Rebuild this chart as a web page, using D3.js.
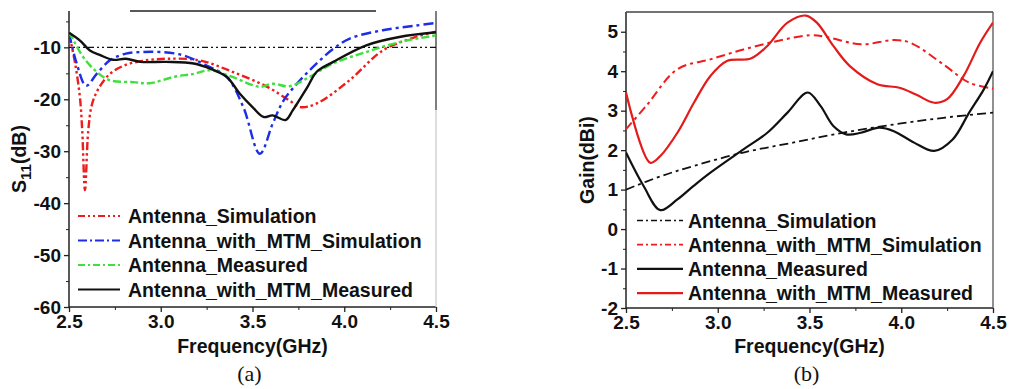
<!DOCTYPE html>
<html><head><meta charset="utf-8">
<script src="https://cdn.jsdelivr.net/npm/d3@7"></script>
<style>
html,body{margin:0;padding:0;background:#fff;}
svg text{font-family:"Liberation Sans",Arial,sans-serif;font-weight:bold;fill:#111;}
</style></head>
<body>
<svg id="c" width="1019" height="389"></svg>
<script>
// ---------- DATA: panel (a) S11 ----------
const s11XTicks = [2.5, 3.0, 3.5, 4.0, 4.5];
const s11YTicks = [-60, -50, -40, -30, -20, -10];
const antSimF = [2.5, 2.533, 2.56, 2.572, 2.587, 2.605, 2.625, 2.66, 2.72, 2.8, 2.9, 3.03, 3.21, 3.39, 3.58, 3.70, 3.76, 3.85, 4.03, 4.21, 4.39, 4.5];
const antSimV = [-7.3, -13, -19.8, -26, -37.5, -26, -21, -18, -15.2, -13.5, -12.6, -12.2, -12.5, -14.7, -17.6, -20.2, -21.5, -20.8, -16.3, -10.6, -8.0, -7.0];
const mtmSimF = [2.5, 2.542, 2.593, 2.651, 2.723, 2.81, 2.9, 3.0, 3.12, 3.25, 3.36, 3.45, 3.54, 3.61, 3.67, 3.76, 3.85, 3.94, 4.03, 4.21, 4.39, 4.5];
const mtmSimV = [-7.3, -13.1, -17.4, -15.1, -12.5, -11.2, -10.9, -10.9, -11.5, -13.5, -15.7, -21.5, -30.5, -24.7, -20.2, -16.3, -13.1, -10.3, -8.3, -6.7, -5.8, -5.3];
const antMeasF = [2.5, 2.53, 2.578, 2.65, 2.72, 2.85, 2.94, 3.07, 3.18, 3.27, 3.39, 3.54, 3.61, 3.70, 3.81, 3.94, 4.12, 4.30, 4.5];
const antMeasV = [-7.0, -9.0, -11.9, -14.7, -16.3, -16.7, -16.9, -15.7, -15.1, -14.4, -15.7, -17.6, -17.0, -17.5, -15.7, -13.1, -10.9, -9.0, -7.7];
const mtmMeasF = [2.5, 2.56, 2.614, 2.67, 2.74, 2.81, 2.89, 3.03, 3.18, 3.27, 3.36, 3.43, 3.50, 3.56, 3.61, 3.68, 3.72, 3.80, 3.85, 3.94, 4.12, 4.30, 4.5];
const mtmMeasV = [-7.2, -8.7, -10.6, -11.5, -12.4, -12.2, -12.8, -12.8, -13.1, -14.1, -15.7, -18.9, -21.5, -23.4, -23.1, -24.0, -22.1, -17.6, -14.7, -12.8, -9.6, -8.0, -7.1];
const s11RefLevel = -10;
const s11Legend = ["Antenna_Simulation", "Antenna_with_MTM_Simulation", "Antenna_Measured", "Antenna_with_MTM_Measured"];

// ---------- DATA: panel (b) Gain ----------
const gainXTicks = [2.5, 3.0, 3.5, 4.0, 4.5];
const gainYTicks = [-2, -1, 0, 1, 2, 3, 4, 5];
const gAntSimF = [2.5, 2.69, 2.87, 3.14, 3.41, 3.68, 3.96, 4.23, 4.5];
const gAntSimV = [1.0, 1.34, 1.6, 1.94, 2.19, 2.44, 2.65, 2.82, 2.95];
const gMtmSimF = [2.5, 2.61, 2.78, 2.96, 3.14, 3.32, 3.50, 3.59, 3.78, 3.96, 4.05, 4.23, 4.37, 4.5];
const gMtmSimV = [2.53, 3.12, 4.05, 4.30, 4.55, 4.76, 4.91, 4.87, 4.68, 4.79, 4.72, 4.17, 3.71, 3.56];
const gAntMeasF = [2.5, 2.596, 2.687, 2.78, 2.87, 2.96, 3.14, 3.27, 3.38, 3.49, 3.56, 3.63, 3.70, 3.78, 3.88, 3.96, 4.07, 4.18, 4.28, 4.37, 4.45, 4.5];
const gAntMeasV = [1.94, 1.09, 0.48, 0.75, 1.1, 1.43, 2.02, 2.44, 2.95, 3.46, 3.12, 2.61, 2.40, 2.44, 2.57, 2.48, 2.19, 1.98, 2.27, 2.95, 3.54, 4.0];
const gMtmMeasF = [2.5, 2.632, 2.687, 2.78, 2.87, 2.96, 3.05, 3.18, 3.27, 3.38, 3.48, 3.54, 3.63, 3.72, 3.87, 3.99, 4.08, 4.18, 4.25, 4.34, 4.43, 4.5];
const gMtmMeasV = [3.46, 1.68, 1.85, 2.44, 3.2, 3.88, 4.26, 4.32, 4.64, 5.23, 5.41, 5.23, 4.64, 4.13, 3.67, 3.58, 3.41, 3.2, 3.29, 3.88, 4.72, 5.23];
const gainLegend = ["Antenna_Simulation", "Antenna_with_MTM_Simulation", "Antenna_Measured", "Antenna_with_MTM_Measured"];

// ---------- RENDER ----------
const svg = d3.select("#c");
const RED = "#ee1c1c", BLUE = "#1c2ee6", GREEN = "#3de03d", BLACK = "#111";

function zip(F, V) { return F.map((f, i) => [f, V[i]]); }

function panel(o) {
  const g = svg.append("g");
  const x = d3.scaleLinear().domain(o.xDomain).range([o.left, o.right]);
  const y = d3.scaleLinear().domain(o.yDomain).range([o.bottom, o.top]);

  const cid = "clip" + o.id;
  svg.append("defs").append("clipPath").attr("id", cid)
    .append("rect").attr("x", o.left).attr("y", o.top)
    .attr("width", o.right - o.left).attr("height", o.bottom - o.top);

  g.append("line").attr("x1", o.left).attr("x2", o.left).attr("y1", o.top).attr("y2", o.bottom)
    .attr("stroke", "#222").attr("stroke-width", 1.5);
  g.append("line").attr("x1", o.left).attr("x2", o.right).attr("y1", o.bottom).attr("y2", o.bottom)
    .attr("stroke", "#222").attr("stroke-width", 1.5);
  o.frame(g, x, y);

  const xa = d3.axisBottom(x).tickValues(o.xTicks).tickSize(5).tickPadding(3).tickFormat(d3.format(".1f"));
  const gx = g.append("g").attr("transform", `translate(0,${o.bottom})`).call(xa);
  gx.select(".domain").remove();
  gx.selectAll("line").attr("stroke", "#222").attr("stroke-width", 1.3);
  gx.selectAll("text").style("font-size", "19px").attr("fill", "#111");
  const xm = d3.axisBottom(x).tickValues(o.xMinor).tickSize(3).tickFormat("");
  const gxm = g.append("g").attr("transform", `translate(0,${o.bottom})`).call(xm);
  gxm.select(".domain").remove(); gxm.selectAll("line").attr("stroke", "#222");

  const ya = d3.axisLeft(y).tickValues(o.yTicks).tickSize(5).tickPadding(3).tickFormat(d => d < 0 ? "-" + Math.abs(d) : d);
  const gy = g.append("g").attr("transform", `translate(${o.left},0)`).call(ya);
  gy.select(".domain").remove();
  gy.selectAll("line").attr("stroke", "#222").attr("stroke-width", 1.3);
  gy.selectAll("text").style("font-size", "19px").attr("fill", "#111");
  const ym = d3.axisLeft(y).tickValues(o.yMinor).tickSize(3).tickFormat("");
  const gym = g.append("g").attr("transform", `translate(${o.left},0)`).call(ym);
  gym.select(".domain").remove(); gym.selectAll("line").attr("stroke", "#222");

  const line = d3.line().x(d => x(d[0])).y(d => y(d[1])).curve(d3.curveCatmullRom.alpha(0.5));
  const lg = g.append("g").attr("clip-path", `url(#${cid})`);
  if (o.ref) o.ref(lg, x, y);
  o.series.forEach(s => {
    lg.append("path").datum(zip(s.f, s.v)).attr("d", line)
      .attr("fill", "none").attr("stroke", s.color).attr("stroke-width", s.w || 2.4)
      .attr("stroke-dasharray", s.dash || null).attr("stroke-linejoin", "round");
  });

  o.legendOrder.forEach((s, i) => {
    const yy = o.legY + i * o.legDy;
    g.append("line").attr("x1", o.legX0).attr("x2", o.legX1).attr("y1", yy).attr("y2", yy)
      .attr("stroke", s.color).attr("stroke-width", s.lw || 2).attr("stroke-dasharray", s.ldash || null);
    g.append("text").attr("x", o.legTx).attr("y", yy + 7).style("font-size", "19.5px").text(s.label);
  });

  g.append("text").attr("x", (o.left + o.right) / 2).attr("y", 353).attr("text-anchor", "middle")
    .style("font-size", "19.5px").text("Frequency(GHz)");
  g.append("text").attr("x", (o.left + o.right) / 2 - 3).attr("y", 381).attr("text-anchor", "middle")
    .style("font-family", "'Liberation Serif','Times New Roman',serif").style("font-weight", "normal")
    .style("font-size", "22px").text(o.tag);
  const yt = g.append("text").attr("transform", `translate(${o.yLabX},${(o.top + o.bottom) / 2}) rotate(-90)`)
    .attr("text-anchor", "middle").style("font-size", "19.5px");
  o.yLabel(yt);
}

const sA = [
  { f: antSimF, v: antSimV, color: RED, dash: "8,3,2.5,3,2.5,3", label: s11Legend[0], ldash: "7,3,2,3,2,3" },
  { f: mtmSimF, v: mtmSimV, color: BLUE, dash: "10,4,3,4", label: s11Legend[1], ldash: "9,3,2,3" },
  { f: antMeasF, v: antMeasV, color: GREEN, dash: "8,3,3,3", label: s11Legend[2], ldash: "7,3,2,3" },
  { f: mtmMeasF, v: mtmMeasV, color: BLACK, label: s11Legend[3] }
];
panel({
  id: "a", left: 69, right: 436, top: 11, bottom: 307,
  xDomain: [2.5, 4.5], yDomain: [-60, -3],
  xTicks: s11XTicks, xMinor: [2.75, 3.25, 3.75, 4.25],
  yTicks: s11YTicks, yMinor: [-55, -45, -35, -25, -15, -5],
  frame: (g) => {
    g.append("line").attr("x1", 130).attr("x2", 376).attr("y1", 11).attr("y2", 11).attr("stroke", "#222").attr("stroke-width", 1.5);
    g.append("line").attr("x1", 436).attr("x2", 436).attr("y1", 11).attr("y2", 110).attr("stroke", "#555").attr("stroke-width", 1.5);
    g.append("line").attr("x1", 436).attr("x2", 436).attr("y1", 110).attr("y2", 307).attr("stroke", "#c8c8c8").attr("stroke-width", 1.2);
  },
  ref: (g, x, y) => {
    g.append("line").attr("x1", x(2.5)).attr("x2", x(4.5)).attr("y1", y(s11RefLevel)).attr("y2", y(s11RefLevel))
      .attr("stroke", "#111").attr("stroke-width", 1.3).attr("stroke-dasharray", "6,3,2,3,2,3");
  },
  series: sA, legendOrder: sA,
  legX0: 78, legX1: 120, legTx: 128, legY: 216, legDy: 24.5,
  tag: "(a)", yLabX: 26,
  yLabel: t => { t.append("tspan").text("S"); t.append("tspan").attr("dy", 5).style("font-size", "15px").text("11"); t.append("tspan").attr("dy", -5).text("(dB)"); }
});

const sB = [
  { f: gAntSimF, v: gAntSimV, color: BLACK, dash: "9,4,3,4", w: 1.8, label: gainLegend[0], ldash: "6,3,2,3", lw: 1.5 },
  { f: gMtmSimF, v: gMtmSimV, color: RED, dash: "9,4,3,4", w: 2, label: gainLegend[1], ldash: "6,3,2,3", lw: 1.8 },
  { f: gAntMeasF, v: gAntMeasV, color: BLACK, w: 2.2, label: gainLegend[2], lw: 2.4 },
  { f: gMtmMeasF, v: gMtmMeasV, color: "#e31b1b", w: 2.2, label: gainLegend[3], lw: 2.4 }
];
panel({
  id: "b", left: 626, right: 993, top: 12, bottom: 308,
  xDomain: [2.5, 4.5], yDomain: [-2, 5.5],
  xTicks: gainXTicks, xMinor: [2.75, 3.25, 3.75, 4.25],
  yTicks: gainYTicks, yMinor: [-1.5, -0.5, 0.5, 1.5, 2.5, 3.5, 4.5],
  frame: (g) => {
    g.append("line").attr("x1", 626).attr("x2", 993).attr("y1", 12).attr("y2", 12).attr("stroke", "#444").attr("stroke-width", 1.3);
    g.append("line").attr("x1", 993).attr("x2", 993).attr("y1", 12).attr("y2", 308).attr("stroke", "#555").attr("stroke-width", 1.3);
  },
  series: sB, legendOrder: sB,
  legX0: 637, legX1: 683, legTx: 688, legY: 220.5, legDy: 24.2,
  tag: "(b)", yLabX: 594,
  yLabel: t => t.text("Gain(dBi)")
});
</script>
</body></html>
